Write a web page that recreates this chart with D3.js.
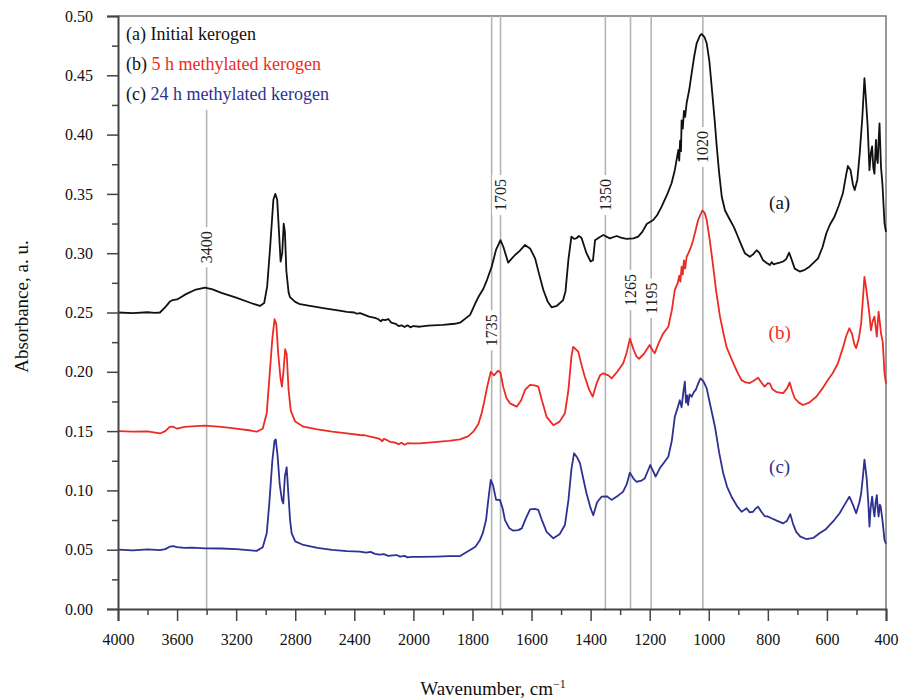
<!DOCTYPE html>
<html>
<head>
<meta charset="utf-8">
<script src="https://cdn.jsdelivr.net/npm/d3@7"></script>
<style>
    body { margin: 0; background: #fff; }
    svg text { font-family: "Liberation Serif", "DejaVu Serif", serif; }
</style>
</head>
<body>
<div id="chart"></div>
<script>
// wavenumbers (cm-1) and absorbance
const wnA = [4000, 3900, 3800, 3750, 3716, 3680, 3650, 3630, 3600, 3580, 3540, 3480, 3411, 3360, 3300, 3200, 3100, 3039, 3010, 2990, 2970, 2948, 2935, 2922, 2910, 2899, 2888, 2878, 2870, 2860, 2845, 2836, 2800, 2768, 2700, 2600, 2500, 2450, 2400, 2384, 2360, 2330, 2300, 2260, 2240, 2220, 2210, 2190, 2170, 2150, 2120, 2100, 2080, 2060, 2040, 2020, 2000, 1978, 1950, 1900, 1860, 1842, 1808, 1790, 1780, 1763, 1750, 1735, 1720, 1705, 1695, 1679, 1665, 1656, 1640, 1622, 1605, 1588, 1575, 1560, 1545, 1532, 1515, 1493, 1485, 1475, 1465, 1455, 1448, 1440, 1431, 1414, 1400, 1392, 1385, 1370, 1357, 1335, 1312, 1295, 1278, 1255, 1239, 1225, 1210, 1188, 1175, 1160, 1140, 1126, 1115, 1108, 1103, 1100, 1097, 1094, 1092, 1088, 1084, 1080, 1075, 1066, 1058, 1050, 1041, 1030, 1024, 1015, 1007, 998, 990, 980, 973, 965, 956, 945, 928, 915, 906, 895, 878, 861, 850, 838, 828, 816, 805, 793, 787, 780, 776, 760, 748, 738, 728, 720, 709, 692, 675, 659, 645, 630, 615, 602, 590, 574, 560, 546, 535, 529, 520, 512, 506, 497, 489, 480, 473, 468, 462, 456, 451, 447, 443, 439, 436, 434, 431, 428, 425, 422, 417, 412, 405, 400];
const absA = [0.250, 0.2495, 0.2502, 0.2497, 0.250, 0.2545, 0.259, 0.2605, 0.261, 0.2625, 0.2655, 0.269, 0.271, 0.2695, 0.2665, 0.2625, 0.258, 0.2555, 0.258, 0.272, 0.305, 0.345, 0.350, 0.345, 0.318, 0.293, 0.300, 0.325, 0.318, 0.285, 0.267, 0.263, 0.259, 0.257, 0.2555, 0.2535, 0.2515, 0.2505, 0.250, 0.249, 0.2495, 0.248, 0.2465, 0.2455, 0.2445, 0.2425, 0.244, 0.2435, 0.2445, 0.2415, 0.2405, 0.2385, 0.2392, 0.2378, 0.2392, 0.2375, 0.2386, 0.238, 0.239, 0.2395, 0.2405, 0.2414, 0.248, 0.258, 0.263, 0.270, 0.278, 0.2886, 0.303, 0.311, 0.305, 0.292, 0.296, 0.2985, 0.302, 0.307, 0.304, 0.2957, 0.283, 0.269, 0.259, 0.2544, 0.2555, 0.2605, 0.268, 0.295, 0.314, 0.312, 0.3126, 0.3145, 0.313, 0.300, 0.293, 0.294, 0.311, 0.3135, 0.3153, 0.3125, 0.3145, 0.313, 0.312, 0.3125, 0.314, 0.318, 0.3246, 0.328, 0.332, 0.339, 0.350, 0.359, 0.370, 0.380, 0.387, 0.378, 0.395, 0.386, 0.412, 0.405, 0.420, 0.415, 0.4264, 0.438, 0.4517, 0.465, 0.477, 0.4835, 0.4848, 0.4825, 0.477, 0.462, 0.440, 0.412, 0.390, 0.368, 0.3476, 0.336, 0.328, 0.322, 0.3168, 0.310, 0.300, 0.297, 0.299, 0.3025, 0.300, 0.294, 0.292, 0.290, 0.2925, 0.2905, 0.291, 0.292, 0.293, 0.295, 0.3005, 0.295, 0.287, 0.2845, 0.286, 0.2886, 0.292, 0.2957, 0.305, 0.3168, 0.324, 0.331, 0.340, 0.3505, 0.366, 0.3735, 0.370, 0.358, 0.3533, 0.362, 0.384, 0.415, 0.4475, 0.430, 0.4067, 0.370, 0.385, 0.390, 0.372, 0.367, 0.385, 0.3955, 0.380, 0.376, 0.395, 0.4095, 0.373, 0.358, 0.325, 0.318];

const wnB = [4000, 3900, 3800, 3716, 3680, 3650, 3626, 3600, 3550, 3500, 3411, 3300, 3200, 3100, 3061, 3020, 2993, 2975, 2955, 2940, 2928, 2915, 2900, 2890, 2880, 2868, 2858, 2845, 2830, 2800, 2745, 2650, 2550, 2450, 2362, 2330, 2300, 2260, 2230, 2210, 2200, 2180, 2159, 2130, 2100, 2080, 2060, 2040, 2011, 1978, 1920, 1880, 1842, 1815, 1797, 1780, 1769, 1760, 1750, 1738, 1727, 1713, 1705, 1696, 1685, 1673, 1650, 1635, 1622, 1605, 1590, 1577, 1565, 1549, 1526, 1505, 1487, 1475, 1465, 1459, 1450, 1442, 1430, 1420, 1405, 1393, 1380, 1368, 1357, 1340, 1329, 1310, 1290, 1278, 1267, 1255, 1245, 1236, 1220, 1200, 1190, 1183, 1170, 1155, 1137, 1125, 1115, 1105, 1100, 1096, 1092, 1088, 1084, 1080, 1075, 1069, 1062, 1053, 1045, 1036, 1022, 1014, 1007, 996, 985, 975, 962, 950, 940, 925, 911, 900, 889, 875, 861, 848, 833, 822, 811, 800, 793, 785, 771, 760, 748, 735, 726, 718, 709, 695, 681, 660, 636, 615, 597, 580, 563, 545, 535, 524, 515, 507, 501, 492, 484, 478, 473, 468, 462, 456, 451, 445, 439, 435, 431, 428, 425, 421, 417, 411, 405, 400];
const absB = [0.150, 0.1495, 0.1498, 0.148, 0.150, 0.1535, 0.1537, 0.152, 0.1535, 0.154, 0.1546, 0.1535, 0.152, 0.1505, 0.1495, 0.152, 0.165, 0.195, 0.228, 0.2443, 0.240, 0.215, 0.195, 0.1875, 0.200, 0.219, 0.215, 0.185, 0.167, 0.158, 0.1537, 0.1515, 0.1495, 0.148, 0.1467, 0.1465, 0.1455, 0.1445, 0.1435, 0.1415, 0.1435, 0.1425, 0.141, 0.1405, 0.139, 0.1402, 0.1385, 0.1398, 0.1397, 0.1397, 0.141, 0.1418, 0.143, 0.1455, 0.1495, 0.156, 0.165, 0.175, 0.1875, 0.200, 0.197, 0.201, 0.199, 0.1875, 0.178, 0.1734, 0.1706, 0.176, 0.1847, 0.189, 0.1885, 0.1875, 0.176, 0.162, 0.155, 0.158, 0.165, 0.185, 0.213, 0.221, 0.219, 0.217, 0.205, 0.196, 0.185, 0.179, 0.190, 0.197, 0.1987, 0.197, 0.1945, 0.200, 0.207, 0.216, 0.228, 0.219, 0.213, 0.211, 0.215, 0.2226, 0.218, 0.2156, 0.224, 0.232, 0.238, 0.252, 0.269, 0.275, 0.281, 0.276, 0.2886, 0.282, 0.294, 0.287, 0.297, 0.300, 0.304, 0.311, 0.319, 0.328, 0.336, 0.334, 0.328, 0.310, 0.2886, 0.268, 0.2465, 0.232, 0.221, 0.212, 0.204, 0.198, 0.193, 0.191, 0.1905, 0.1925, 0.195, 0.191, 0.1875, 0.1905, 0.190, 0.1855, 0.183, 0.1825, 0.182, 0.186, 0.191, 0.184, 0.1777, 0.174, 0.172, 0.174, 0.179, 0.186, 0.193, 0.199, 0.207, 0.221, 0.230, 0.2367, 0.232, 0.223, 0.220, 0.228, 0.241, 0.262, 0.280, 0.272, 0.2605, 0.248, 0.235, 0.243, 0.2465, 0.238, 0.2296, 0.241, 0.2507, 0.242, 0.2325, 0.225, 0.1987, 0.190];

const wnC = [4000, 3900, 3800, 3716, 3680, 3650, 3626, 3600, 3550, 3500, 3411, 3300, 3200, 3100, 3061, 3020, 2993, 2975, 2955, 2940, 2932, 2920, 2905, 2890, 2881, 2870, 2858, 2848, 2835, 2824, 2800, 2745, 2650, 2550, 2450, 2362, 2320, 2290, 2260, 2230, 2200, 2170, 2140, 2114, 2090, 2060, 2040, 2011, 1978, 1920, 1880, 1842, 1808, 1790, 1775, 1765, 1754, 1745, 1738, 1730, 1720, 1707, 1698, 1690, 1675, 1662, 1645, 1633, 1620, 1605, 1590, 1577, 1565, 1549, 1526, 1505, 1487, 1475, 1465, 1456, 1446, 1436, 1425, 1414, 1400, 1391, 1378, 1363, 1345, 1329, 1310, 1290, 1278, 1267, 1255, 1245, 1230, 1217, 1198, 1188, 1180, 1165, 1150, 1137, 1125, 1115, 1105, 1098, 1092, 1086, 1081, 1077, 1073, 1070, 1065, 1058, 1050, 1044, 1036, 1028, 1018, 1007, 995, 979, 965, 951, 938, 923, 905, 889, 880, 872, 862, 850, 842, 833, 822, 811, 800, 788, 770, 748, 735, 724, 715, 704, 690, 670, 645, 625, 605, 591, 575, 557, 540, 524, 512, 501, 490, 484, 478, 473, 469, 465, 460, 456, 452, 447, 443, 439, 435, 431, 428, 425, 421, 418, 412, 405, 400];
const absC = [0.050, 0.0495, 0.0502, 0.0497, 0.0505, 0.0525, 0.053, 0.0522, 0.0515, 0.0518, 0.0512, 0.051, 0.0505, 0.0495, 0.049, 0.052, 0.0638, 0.090, 0.125, 0.142, 0.143, 0.130, 0.105, 0.092, 0.089, 0.112, 0.1195, 0.100, 0.075, 0.0638, 0.057, 0.054, 0.0515, 0.0498, 0.0488, 0.0483, 0.0475, 0.0482, 0.0465, 0.0458, 0.0462, 0.0448, 0.0452, 0.0455, 0.0442, 0.0448, 0.0435, 0.044, 0.044, 0.0442, 0.0445, 0.0447, 0.0497, 0.0525, 0.058, 0.064, 0.075, 0.095, 0.1088, 0.104, 0.092, 0.092, 0.085, 0.075, 0.068, 0.066, 0.0665, 0.068, 0.076, 0.084, 0.0845, 0.0835, 0.075, 0.065, 0.0596, 0.063, 0.0708, 0.092, 0.118, 0.1313, 0.128, 0.123, 0.110, 0.0976, 0.085, 0.079, 0.090, 0.0947, 0.095, 0.092, 0.095, 0.099, 0.105, 0.115, 0.110, 0.1073, 0.108, 0.110, 0.1214, 0.116, 0.1116, 0.119, 0.124, 0.1284, 0.142, 0.162, 0.170, 0.176, 0.170, 0.183, 0.1917, 0.174, 0.180, 0.172, 0.181, 0.179, 0.183, 0.1847, 0.190, 0.1945, 0.192, 0.186, 0.172, 0.1537, 0.132, 0.1144, 0.103, 0.0947, 0.087, 0.082, 0.0835, 0.085, 0.0815, 0.082, 0.0845, 0.0863, 0.082, 0.0784, 0.078, 0.0765, 0.0745, 0.0722, 0.0745, 0.080, 0.072, 0.065, 0.061, 0.059, 0.060, 0.0638, 0.067, 0.0708, 0.075, 0.0807, 0.088, 0.0947, 0.088, 0.0807, 0.090, 0.0976, 0.112, 0.126, 0.118, 0.1088, 0.090, 0.0694, 0.085, 0.0947, 0.085, 0.078, 0.090, 0.096, 0.085, 0.078, 0.088, 0.0863, 0.075, 0.058, 0.055];

const seriesNames = ["(a) Initial kerogen", "(b) 5 h methylated kerogen", "(c) 24 h methylated kerogen"];
const seriesTags = ["(a)", "(b)", "(c)"];
const seriesColors = ["#111111", "#ee2a24", "#2e3192"];

// marked bands, label centre and line top given in absorbance units
const bandWn = [3400, 1735, 1705, 1350, 1265, 1195, 1020];
const bandLabelAbs = [0.305, 0.235, 0.349, 0.349, 0.269, 0.262, 0.3895];
const bandTopAbs = [0.421, 0.5, 0.5, 0.5, 0.5, 0.5, 0.5];

const xMajor = [4000, 3600, 3200, 2800, 2400, 2000, 1800, 1600, 1400, 1200, 1000, 800, 600, 400];
const xMinor = [3800, 3400, 3000, 2600, 2200, 1900, 1700, 1500, 1300, 1100, 900, 700, 500];
const yMajor = [0, 0.05, 0.10, 0.15, 0.20, 0.25, 0.30, 0.35, 0.40, 0.45, 0.50];
const yMinor = [0.025, 0.075, 0.125, 0.175, 0.225, 0.275, 0.325, 0.375, 0.425, 0.475];

// tag positions for the curve labels (wavenumber, absorbance)
const tagWn = [760, 760, 760];
const tagAbs = [0.343, 0.233, 0.120];

const size = { width: 902, height: 700 };
const margin = { top: 16, right: 16, bottom: 91, left: 118 };
const innerW = size.width - margin.left - margin.right;
const innerH = size.height - margin.top - margin.bottom;

const svg = d3.select("#chart").append("svg")
    .attr("width", size.width)
    .attr("height", size.height);

const g = svg.append("g")
    .attr("transform", `translate(${margin.left},${margin.top})`);

// the axis is split: 400 cm-1 per division above 2000, 200 below
const x = d3.scaleLinear()
    .domain([4000, 2000, 400])
    .range([0, innerW * 5 / 13, innerW]);

const y = d3.scaleLinear()
    .domain([0, 0.5])
    .range([innerH, 0]);

// frame (top and right)
g.append("path")
    .attr("d", `M0,0H${innerW}V${innerH}`)
    .attr("fill", "none")
    .attr("stroke", "#777")
    .attr("stroke-width", 1.5);

// band marker lines
const bands = g.append("g").attr("class", "bands");
bandWn.forEach((wn, i) => {
    bands.append("line")
        .attr("x1", x(wn)).attr("x2", x(wn))
        .attr("y1", y(bandTopAbs[i])).attr("y2", innerH)
        .attr("stroke", "#b4b4b4")
        .attr("stroke-width", 1.6);

    const lab = bands.append("g")
        .attr("transform", `translate(${x(wn)},${y(bandLabelAbs[i])}) rotate(-90)`);
    const bg = lab.append("rect").attr("fill", "#fff");
    const t = lab.append("text")
        .attr("text-anchor", "middle")
        .attr("dy", "0.35em")
        .attr("font-size", 16)
        .attr("fill", "#222")
        .text(wn);
    const bb = t.node().getBBox();
    bg.attr("x", bb.x - 4).attr("y", bb.y).attr("width", bb.width + 8).attr("height", bb.height);
});

// spectra
const line = d3.line()
    .x(d => x(d[0]))
    .y(d => y(d[1]));

const spectra = [
    d3.zip(wnA, absA),
    d3.zip(wnB, absB),
    d3.zip(wnC, absC)
];

g.selectAll(".spectrum")
    .data(spectra)
    .enter()
    .append("path")
    .attr("class", "spectrum")
    .attr("d", line)
    .attr("fill", "none")
    .attr("stroke", (_, i) => seriesColors[i])
    .attr("stroke-width", 1.8)
    .attr("stroke-linejoin", "round");

// axes
const xAxis = g.append("g")
    .attr("transform", `translate(0,${innerH})`)
    .call(d3.axisBottom(x).tickValues(xMajor).tickSize(12).tickPadding(13).tickFormat(d3.format("d")));
g.append("g")
    .attr("transform", `translate(0,${innerH})`)
    .call(d3.axisBottom(x).tickValues(xMinor).tickSize(6).tickFormat(""))
    .select(".domain").remove();

const yAxis = g.append("g")
    .call(d3.axisLeft(y).tickValues(yMajor).tickSize(11).tickPadding(14).tickFormat(d3.format(".2f")));
g.append("g")
    .call(d3.axisLeft(y).tickValues(yMinor).tickSize(6).tickFormat(""))
    .select(".domain").remove();

g.selectAll(".tick line").attr("stroke", "#444").attr("stroke-width", 1.5);
g.selectAll(".domain").attr("stroke", "#444").attr("stroke-width", 2);
g.selectAll(".tick text")
    .attr("font-family", "'Liberation Serif', serif")
    .attr("font-size", 16)
    .attr("fill", "#111");

// axis titles
svg.append("text")
    .attr("x", margin.left + innerW / 2 - 9)
    .attr("y", 695)
    .attr("text-anchor", "middle")
    .attr("font-size", 19)
    .attr("fill", "#111")
    .html("Wavenumber, cm<tspan dy='-7' font-size='12'>−1</tspan>");

svg.append("text")
    .attr("transform", `translate(28,${margin.top + y(0.255)}) rotate(-90)`)
    .attr("text-anchor", "middle")
    .attr("font-size", 19)
    .attr("fill", "#111")
    .text("Absorbance, a. u.");

// legend, top left
const legend = g.append("g").attr("transform", "translate(8,0)");
seriesNames.forEach((name, i) => {
    const t = legend.append("text")
        .attr("x", 0)
        .attr("y", 24 + i * 30)
        .attr("font-size", 18)
        .attr("fill", "#111");
    t.append("tspan").text(seriesTags[i] + " ");
    t.append("tspan").attr("fill", seriesColors[i]).text(name.slice(4));
});

// curve tags
g.selectAll(".tag")
    .data(seriesTags)
    .enter()
    .append("text")
    .attr("class", "tag")
    .attr("x", (_, i) => x(tagWn[i]))
    .attr("y", (_, i) => y(tagAbs[i]))
    .attr("text-anchor", "middle")
    .attr("dy", "0.35em")
    .attr("font-size", 19)
    .attr("fill", (_, i) => seriesColors[i])
    .text(d => d);
</script>
</body>
</html>
